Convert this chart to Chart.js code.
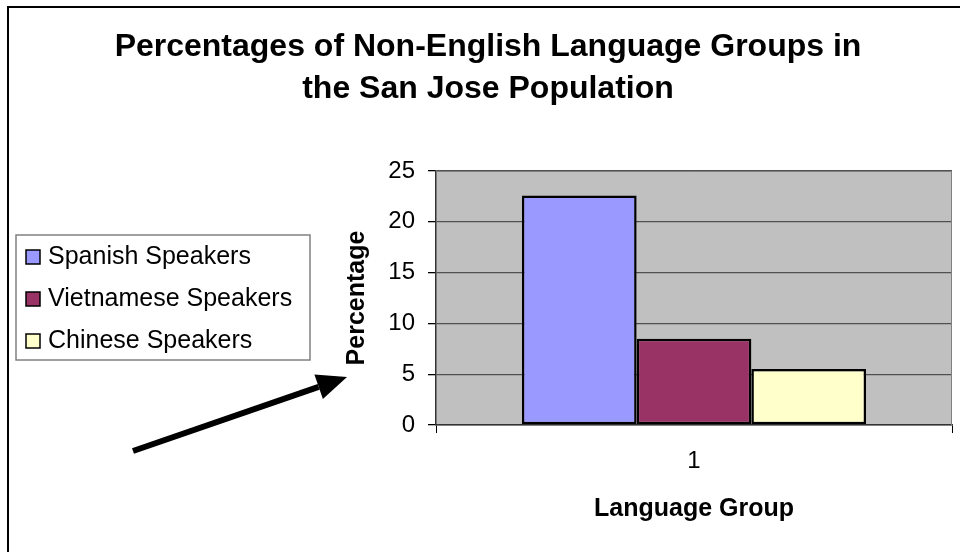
<!DOCTYPE html>
<html>
<head>
<meta charset="utf-8">
<script src="https://cdn.jsdelivr.net/npm/chart.js@4/dist/chart.umd.min.js"></script>
<style>
  html, body { margin: 0; padding: 0; background: #fff; }
  canvas { display: block; }
</style>
</head>
<body>
<canvas id="chart1" width="960" height="552"></canvas>
<script>
var categories = ['1'];
var seriesNames = ['Spanish Speakers', 'Vietnamese Speakers', 'Chinese Speakers'];
var spanish = [22.6];
var vietnamese = [8.5];
var chinese = [5.5];
var seriesColors = ['#9999FF', '#993366', '#FFFFCC'];
var titleLines = ['Percentages of Non-English Language Groups in', 'the San Jose Population'];

var FONT = "'Liberation Sans', Arial, sans-serif";
Chart.defaults.color = '#000';
Chart.defaults.font.family = FONT;

// gray plot area plus frame, page border, legend box and the arrow
var decor = {
    id: 'decor',
    beforeDraw: function(chart) {
        var ctx = chart.ctx, a = chart.chartArea;
        ctx.save();
        ctx.fillStyle = '#fff';
        ctx.fillRect(0, 0, chart.width, chart.height);
        ctx.fillStyle = '#C0C0C0';
        ctx.fillRect(a.left, a.top, a.right - a.left, a.bottom - a.top);
        ctx.restore();
    },
    afterDraw: function(chart) {
        var ctx = chart.ctx, a = chart.chartArea;
        ctx.save();
        // plot frame top and right
        ctx.strokeStyle = '#808080';
        ctx.lineWidth = 1;
        ctx.beginPath();
        ctx.moveTo(a.left, a.top + 0.5);
        ctx.lineTo(a.right - 0.5, a.top + 0.5);
        ctx.lineTo(a.right - 0.5, a.bottom);
        ctx.stroke();

        // outer border
        ctx.strokeStyle = '#000';
        ctx.lineWidth = 2;
        ctx.beginPath();
        ctx.moveTo(8, chart.height + 5);
        ctx.lineTo(8, 7);
        ctx.lineTo(chart.width + 5, 7);
        ctx.stroke();

        // legend
        ctx.fillStyle = '#fff';
        ctx.fillRect(16, 235, 294, 125);
        ctx.strokeStyle = '#808080';
        ctx.lineWidth = 1.5;
        ctx.strokeRect(16, 235, 294, 125);
        ctx.font = '25px ' + FONT;
        ctx.textBaseline = 'middle';
        chart.data.datasets.forEach(function(ds, i) {
            var y = 257 + i * 42;
            ctx.fillStyle = ds.backgroundColor;
            ctx.fillRect(26, y - 7, 14, 14);
            ctx.strokeStyle = '#000';
            ctx.lineWidth = 1.5;
            ctx.strokeRect(26, y - 7, 14, 14);
            ctx.fillStyle = '#000';
            ctx.fillText(ds.label, 48, y);
        });

        // arrow
        var x0 = 133, y0 = 451, x1 = 347, y1 = 377;
        var ang = Math.atan2(y1 - y0, x1 - x0);
        var hl = 30, hw = 13;
        var bx = x1 - hl * Math.cos(ang), by = y1 - hl * Math.sin(ang);
        ctx.strokeStyle = '#000';
        ctx.lineWidth = 6;
        ctx.beginPath();
        ctx.moveTo(x0, y0);
        ctx.lineTo(bx, by);
        ctx.stroke();
        ctx.fillStyle = '#000';
        ctx.beginPath();
        ctx.moveTo(x1, y1);
        ctx.lineTo(bx + hw * Math.sin(ang), by - hw * Math.cos(ang));
        ctx.lineTo(bx - hw * Math.sin(ang), by + hw * Math.cos(ang));
        ctx.closePath();
        ctx.fill();
        ctx.restore();
    }
};

var ctx1 = document.getElementById('chart1').getContext('2d');
var chart1 = new Chart(ctx1, {
    type: 'bar',
    data: {
        labels: categories,
        datasets: [
            { label: seriesNames[0], data: spanish, backgroundColor: seriesColors[0] },
            { label: seriesNames[1], data: vietnamese, backgroundColor: seriesColors[1] },
            { label: seriesNames[2], data: chinese, backgroundColor: seriesColors[2] }
        ]
    },
    options: {
        responsive: false,
        animation: false,
        layout: { padding: { left: 24, right: 8, top: 0, bottom: 0 } },
        datasets: {
            bar: {
                borderColor: '#000',
                borderWidth: 2.5,
                borderSkipped: false,
                categoryPercentage: 0.667,
                barPercentage: 1.0
            }
        },
        plugins: {
            legend: { display: false },
            tooltip: { enabled: false },
            title: {
                display: true,
                text: titleLines,
                color: '#000',
                font: { size: 32, weight: 'bold', lineHeight: '42px' },
                padding: { top: 26, bottom: 61 }
            }
        },
        scales: {
            x: {
                grid: { display: true, drawOnChartArea: false, tickLength: 8, color: '#000', offset: true },
                border: { color: '#333', width: 1.5 },
                ticks: { font: { size: 24 }, padding: 14, color: '#000' },
                title: {
                    display: true,
                    text: 'Language Group',
                    font: { size: 25, weight: 'bold' },
                    padding: { top: 28, bottom: 28 }
                },
                afterFit: function(s) { s.height = 127; }
            },
            y: {
                min: 0,
                max: 25,
                ticks: { stepSize: 5, font: { size: 24 }, padding: 13, color: '#000' },
                grid: { color: '#505050', lineWidth: 1.3, tickLength: 8, tickColor: '#000' },
                border: { color: '#333', width: 1.5 },
                title: {
                    display: true,
                    text: 'Percentage',
                    font: { size: 25, weight: 'bold' },
                    padding: { top: 318, bottom: 2 }
                },
                afterFit: function(s) { s.width = 412; }
            }
        }
    },
    plugins: [decor]
});
</script>
</body>
</html>
